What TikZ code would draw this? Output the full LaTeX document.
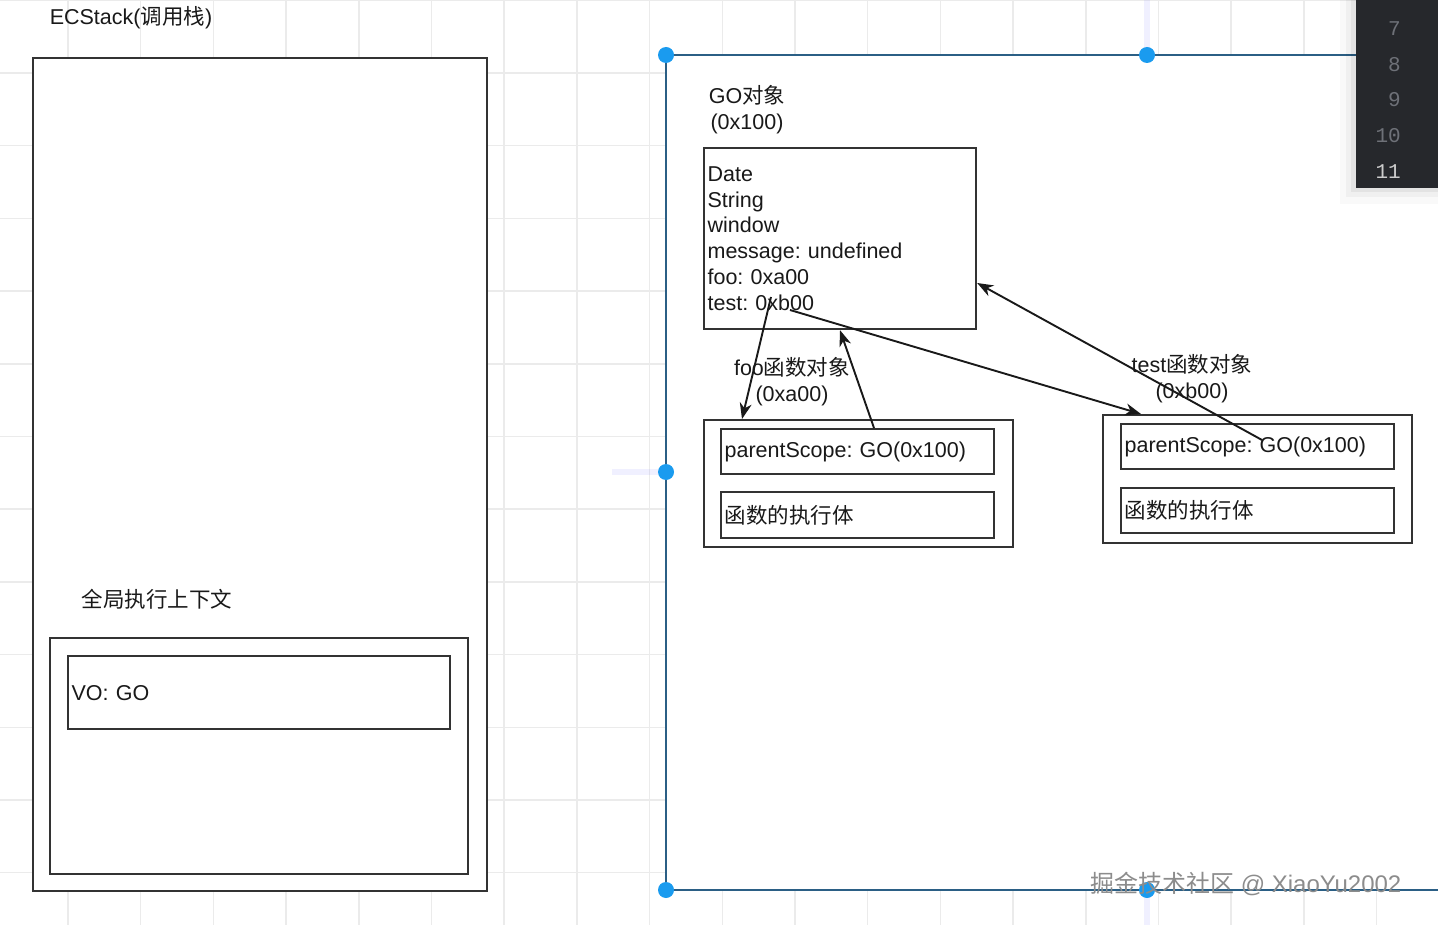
\documentclass[tikz,border=0pt]{standalone}
\usepackage{fontspec}
\usepackage{tikz}
\usetikzlibrary{arrows.meta}
\setmainfont{Liberation Sans}
\setmonofont{Liberation Mono}
\newfontfamily\cjk{Noto Sans CJK SC}
\frenchspacing

\definecolor{linegray}{HTML}{333333}
\definecolor{gridcol}{HTML}{EBEBEB}
\definecolor{framecol}{HTML}{2B5F85}
\definecolor{handleblue}{HTML}{1A9BEF}
\definecolor{panelbg}{HTML}{26282C}
\definecolor{lnum}{HTML}{6E7178}

\begin{document}
\begin{tikzpicture}[x=1pt, y=-1pt,
    every node/.style={font=\fontsize{21.5}{25.8}\selectfont, text=black!90},
    box/.style={draw=linegray, line width=2.2pt, fill=white, inner sep=0pt, inner xsep=3.5pt, anchor=north west},
    ptr/.style={-{Stealth[length=16pt, width=12pt, inset=5pt]}, line width=1.9pt, black!90},
    lineno/.style={font=\ttfamily\fontsize{21}{25}\selectfont, inner sep=0pt, anchor=east, text=lnum}]
    \useasboundingbox (0,0) rectangle (1438,925);

    % grid
    \foreach \i in {0,...,20} \draw[gridcol, line width=1.5pt] ({-4.7+72.7*\i},0) -- ({-4.7+72.7*\i},925);
    \foreach \i in {0,...,12} \draw[gridcol, line width=1.5pt] (0,{0.3+72.7*\i}) -- (1438,{0.3+72.7*\i});

    % selection frame
    \fill[white] (666,55) rectangle (1450,890);
    \draw[blue!40, opacity=.15, line width=6pt] (1147,0) -- (1147,48);
    \draw[blue!40, opacity=.15, line width=6pt] (612,472) -- (658,472);
    \draw[blue!40, opacity=.15, line width=6pt] (1147,897) -- (1147,925);
    \draw[framecol, line width=2.6pt] (1450,55) -- (666,55) -- (666,890) -- (1450,890);
    \foreach \hx/\hy in {666/55, 1147/55, 666/472, 666/890, 1147/890}
        \fill[handleblue] (\hx,\hy) circle (8);

    % call stack
    \node (stacklabel) at (131,18) {ECStack({\cjk 调用栈})};
    \node[box, minimum width=454, minimum height=833] (ecstack) at (32,57) {};
    \node (geclabel) at (157,599) {\cjk 全局执行上下文};
    \node[box, minimum width=418, minimum height=236] (gec) at (49,637) {};
    \node[box, text width=375, minimum height=73, align=left] (vo) at (67,655) {VO: GO};

    % GO
    \node[align=center] (golabel) at (747,110) {GO{\cjk 对象}\\(0x100)};
    \node[box, text width=265, minimum height=181, align=left] (goobj) at (703,147)
        {Date\\String\\window\\message: undefined\\foo: 0xa00\\test: 0xb00};

    % foo
    \node[box, minimum width=309, minimum height=127] (fooobj) at (703,419) {};
    \node[box, text width=266, minimum height=45, align=left] (fooscope) at (720,428) {parentScope: GO(0x100)};
    \node[box, text width=266, minimum height=46, align=left] (foobody) at (720,491) {\cjk 函数的执行体};
    \node[align=center] (foolabel) at (792,382) {foo{\cjk 函数对象}\\(0xa00)};

    % test
    \node[box, minimum width=309, minimum height=128] (testobj) at (1102,414) {};
    \node[box, text width=266, minimum height=45, align=left] (testscope) at (1120,423) {parentScope: GO(0x100)};
    \node[box, text width=266, minimum height=45, align=left] (testbody) at (1120,487) {\cjk 函数的执行体};
    \node[align=center] (testlabel) at (1192,378.5) {test{\cjk 函数对象}\\(0xb00)};

    % pointers
    \coordinate (fooptr) at (771,297);
    \coordinate (testptr) at (790,310);
    \coordinate (testup) at (1262,440);
    \draw[ptr] (fooptr) -- ([xshift=39pt]fooobj.north west);
    \draw[ptr] ([xshift=154pt]fooscope.north west) -- ([xshift=137pt]goobj.south west);
    \draw[ptr] (testptr) -- ([xshift=39pt]testobj.north west);
    \draw[ptr] (testup) -- ([yshift=-136pt]goobj.north east);

    % editor panel
    \fill[black, opacity=.025] (1340,0) rectangle (1438,204);
    \fill[black, opacity=.035] (1346,0) rectangle (1438,197);
    \fill[black, opacity=.05] (1351,0) rectangle (1438,192);
    \fill[panelbg] (1356,0) rectangle (1438,188);
    \foreach \n/\ly in {7/29, 8/65, 9/100, 10/136}
        \node[lineno] (ln\n) at (1401,\ly) {\n};
    \node[lineno, text=black!20] (ln11) at (1401,172) {11};

    % watermark
    \node[anchor=west, inner sep=0pt, text=gray!90, font=\fontsize{24}{28}\selectfont] (mark) at (1090,884)
        {{\cjk 掘金技术社区} @ XiaoYu2002};
\end{tikzpicture}
\end{document}
